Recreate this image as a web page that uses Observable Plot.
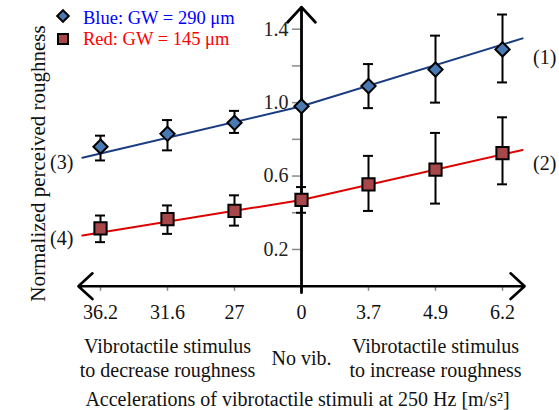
<!DOCTYPE html>
<html>
<head>
<meta charset="utf-8">
<script src="https://cdn.jsdelivr.net/npm/d3@7"></script>
<script src="https://cdn.jsdelivr.net/npm/@observablehq/plot@0.6"></script>
<style>
  html, body { margin: 0; padding: 0; background: white; }
  #wrap { position: relative; width: 559px; height: 410px; font-family: "Liberation Serif", serif; }
  #legend { position: absolute; left: 0; top: 0; }
  .lg { position: absolute; font-size: 18.5px; white-space: nowrap; line-height: 1; }
</style>
</head>
<body>
<div id="wrap">
  <div id="chart"></div>
  <div id="legend"></div>
</div>
<script>
// ---- data ----
const categories = ["36.2", "31.6", "27", "0", "3.7", "4.9", "6.2"];
const blueMean = [0.76, 0.83, 0.89, 0.98, 1.09, 1.18, 1.29];
const blueLow  = [0.685, 0.74, 0.835, 0.98, 0.97, 1.00, 1.11];
const blueHigh = [0.82, 0.905, 0.955, 0.98, 1.21, 1.365, 1.48];
const redMean  = [0.315, 0.365, 0.41, 0.47, 0.555, 0.635, 0.725];
const redLow   = [0.24, 0.285, 0.33, 0.40, 0.41, 0.45, 0.555];
const redHigh  = [0.385, 0.44, 0.495, 0.54, 0.71, 0.835, 0.92];
// fitted lines (3)+(1) for blue and (4)+(2) for red, at x index positions
const fitX    = [-0.27, 3, 6.3];
const blueFit = [0.70, 0.98, 1.35];
const redFit  = [0.276, 0.47, 0.742];
const yTicks = [0.2, 0.4, 0.6, 0.8, 1.0, 1.2, 1.4];
const yTickLabels = ["0.2", "0.6", "1.0", "1.4"];
const lineLabels = ["(1)", "(2)", "(3)", "(4)"];
const lineLabelX = [6.63, 6.63, -0.58, -0.58];
const lineLabelY = [1.246, 0.669, 0.674, 0.26];
const groupLabels = ["Vibrotactile stimulus\nto decrease roughness", "No vib.", "Vibrotactile stimulus\nto increase roughness"];
const groupLabelX = [1, 3, 5];
const legendLabels = ["Blue: GW = 290 μm", "Red: GW = 145 μm"];
const xTitle = "Accelerations of vibrotactile stimuli at 250 Hz [m/s²]";
const yTitle = "Normalized perceived roughness";
const xAxisExtent = [-0.33, 6.33];
const yAxisExtent = [-0.035, 1.52];

const table = categories.map((c, i) => ({
  i, c,
  blue: blueMean[i], blueLow: blueLow[i], blueHigh: blueHigh[i],
  red: redMean[i], redLow: redLow[i], redHigh: redHigh[i]
}));
const blueLine = fitX.map((x, k) => ({x, y: blueFit[k]}));
const redLine = fitX.map((x, k) => ({x, y: redFit[k]}));
const idx = categories.map((c, i) => i);

const FONT = "Liberation Serif";
const FS = 20;
const BLUE_FILL = "#4a7ab4", RED_FILL = "#a8474a";
const capW = 0.075;

const chart = Plot.plot({
  width: 559, height: 410, margin: 0,
  x: {domain: [0, 6], range: [100, 502], axis: null},
  y: {domain: [0, 1.4], range: [285.7, 28.7], axis: null},
  style: {fontFamily: FONT, background: "white", overflow: "visible"},
  marks: [
    Plot.ruleY(yTicks, {y: d => d, x1: 2.865, x2: 3, stroke: "#8a8a8a", strokeWidth: 1.5}),
    Plot.ruleX(idx, {x: d => d, y1: 0, y2: -0.028, stroke: "#8a8a8a", strokeWidth: 1.5}),
    Plot.text(yTickLabels, {x: 3, y: d => +d, text: d => d, dx: -13, textAnchor: "end", fontSize: FS, fontFamily: FONT, fill: "#222"}),
    Plot.line(blueLine, {x: "x", y: "y", stroke: "#1a3c80", strokeWidth: 2}),
    Plot.line(redLine, {x: "x", y: "y", stroke: "#dd0000", strokeWidth: 2}),
    Plot.arrow([0], {x1: 3, y1: 0, x2: xAxisExtent[0], y2: 0, stroke: "black", strokeWidth: 2.6, headLength: 11, headAngle: 85}),
    Plot.arrow([0], {x1: 3, y1: 0, x2: xAxisExtent[1], y2: 0, stroke: "black", strokeWidth: 2.6, headLength: 11, headAngle: 85}),
    Plot.arrow([0], {x1: 3, y1: yAxisExtent[0], x2: 3, y2: yAxisExtent[1], stroke: "black", strokeWidth: 2.8, headLength: 11, headAngle: 85}),
    Plot.ruleX(table, {x: "i", y1: "blueLow", y2: "blueHigh", stroke: "black", strokeWidth: 2}),
    Plot.ruleY(table, {y: "blueHigh", x1: d => d.i - capW, x2: d => d.i + capW, stroke: "black", strokeWidth: 2}),
    Plot.ruleY(table, {y: "blueLow", x1: d => d.i - capW, x2: d => d.i + capW, stroke: "black", strokeWidth: 2}),
    Plot.ruleX(table, {x: "i", y1: "redLow", y2: "redHigh", stroke: "black", strokeWidth: 2}),
    Plot.ruleY(table, {y: "redHigh", x1: d => d.i - capW, x2: d => d.i + capW, stroke: "black", strokeWidth: 2}),
    Plot.ruleY(table, {y: "redLow", x1: d => d.i - capW, x2: d => d.i + capW, stroke: "black", strokeWidth: 2}),
    Plot.dot(table, {x: "i", y: "blue", symbol: "diamond2", r: 6.4, fill: BLUE_FILL, stroke: "black", strokeWidth: 2}),
    Plot.dot(table, {x: "i", y: "red", symbol: "square", r: 6.9, fill: RED_FILL, stroke: "black", strokeWidth: 2}),
    Plot.text(table, {x: "i", y: 0, text: "c", dy: 26, fontSize: FS, fontFamily: FONT, fill: "#111"}),
    Plot.text(groupLabels, {x: (d, k) => groupLabelX[k], y: 0, text: d => d, dy: 71, fontSize: FS, lineHeight: 1.2, fontFamily: FONT, fill: "#111"}),
    Plot.text([xTitle], {x: 3, y: 0, text: d => d, dy: 113, dx: -4, fontSize: FS, fontFamily: FONT, fill: "#111"}),
    Plot.text([yTitle], {frameAnchor: "left", textAnchor: "middle", text: d => d, rotate: -90, dx: 38, dy: -42, fontSize: 21, fontFamily: FONT, fill: "#111"}),
    Plot.text(lineLabels, {x: (d, k) => lineLabelX[k], y: (d, k) => lineLabelY[k], text: d => d, fontSize: FS, fontFamily: FONT, fill: "#111"})
  ]
});
document.getElementById("chart").appendChild(chart);

// legend (HTML overlay at top-left)
const legend = document.getElementById("legend");
const items = [
  {label: legendLabels[0], color: "#0000ff", shape: "diamond", fill: BLUE_FILL, cy: 16, top: 8.5},
  {label: legendLabels[1], color: "#ff0000", shape: "square", fill: RED_FILL, cy: 39, top: 29.5}
];
for (const it of items) {
  const sym = document.createElementNS("http://www.w3.org/2000/svg", "svg");
  sym.setAttribute("width", 16); sym.setAttribute("height", 16);
  sym.style.position = "absolute";
  sym.style.left = (63 - 8) + "px"; sym.style.top = (it.cy - 8) + "px";
  const shp = document.createElementNS("http://www.w3.org/2000/svg", "path");
  shp.setAttribute("d", it.shape === "diamond" ? "M8,2.2L13.8,8L8,13.8L2.2,8Z" : "M3,3H13V13H3Z");
  shp.setAttribute("fill", it.fill); shp.setAttribute("stroke", "black"); shp.setAttribute("stroke-width", 2);
  sym.appendChild(shp);
  legend.appendChild(sym);
  const t = document.createElement("div");
  t.className = "lg";
  t.textContent = it.label;
  t.style.color = it.color;
  t.style.left = "83px";
  t.style.top = it.top + "px";
  legend.appendChild(t);
}
</script>
</body>
</html>
